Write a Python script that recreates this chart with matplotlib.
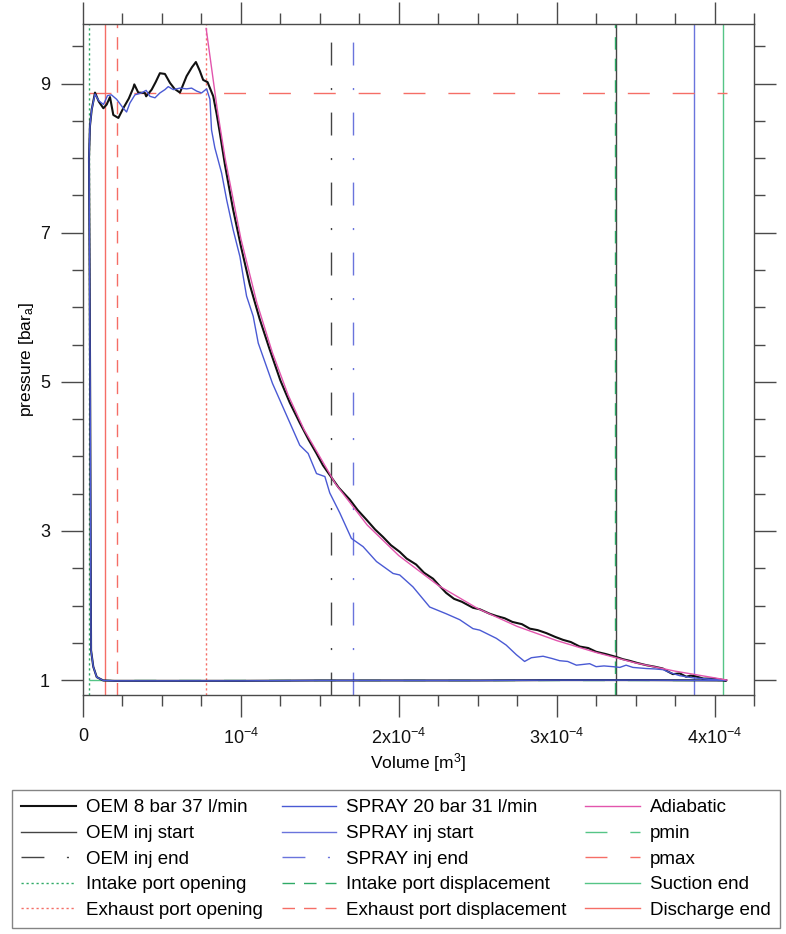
import matplotlib
matplotlib.use('Agg')
import matplotlib.pyplot as plt
import numpy as np
from matplotlib.lines import Line2D
from matplotlib.ticker import MultipleLocator

plt.rcParams['font.family'] = ['Liberation Sans', 'DejaVu Sans']
plt.rcParams['mathtext.fontset'] = 'custom'
plt.rcParams['mathtext.rm'] = 'Liberation Sans'
plt.rcParams['mathtext.it'] = 'Liberation Sans:italic'
plt.rcParams['lines.scale_dashes'] = False

# ---------------- data (volume in 1e-4 m^3, pressure in bar_a) ----------------
oem_volume = [
    4.07, 3.5, 3.0, 2.5, 2.0, 1.5, 1.0, 0.5, 0.2, 0.128,
    0.087, 0.065, 0.051, 0.049, 0.046, 0.042, 0.038, 0.044, 0.055, 0.076,
    0.10, 0.129, 0.150, 0.171, 0.192, 0.224, 0.255, 0.29, 0.318, 0.325, 0.35,
    0.392, 0.40, 0.435, 0.46, 0.487, 0.519, 0.551, 0.58, 0.614, 0.656, 0.69,
    0.715, 0.74, 0.761, 0.789, 0.825, 0.846, 0.866,
    0.90, 0.95, 1.0, 1.057, 1.118, 1.18, 1.25, 1.31, 1.373, 1.43, 1.479, 1.52,
    1.563, 1.62, 1.69, 1.74, 1.796, 1.85, 1.90, 1.95, 2.006, 2.05, 2.11, 2.16,
    2.217, 2.26, 2.30, 2.35, 2.40, 2.47, 2.513, 2.576, 2.618, 2.67, 2.72, 2.78,
    2.83, 2.88, 2.935, 2.99, 3.04, 3.09, 3.146, 3.20, 3.25, 3.31, 3.378, 3.42,
    3.46, 3.51, 3.568, 3.62, 3.673, 3.70, 3.736, 3.78, 3.82, 3.85, 3.88, 3.93,
    3.99, 4.03, 4.07]
oem_pressure = [
    0.995, 1.0, 1.0, 0.995, 0.995, 0.995, 0.99, 0.99, 0.99, 0.995,
    1.04, 1.18, 1.40, 2.6, 4.5, 6.5, 8.0, 8.43, 8.65, 8.88,
    8.76, 8.67, 8.72, 8.82, 8.58, 8.54, 8.67, 8.80, 8.94, 8.99, 8.88,
    8.875, 8.83, 8.92, 9.02, 9.14, 9.13, 9.01, 8.93, 8.88, 9.10, 9.22,
    9.29, 9.17, 9.05, 9.02, 8.83, 8.60, 8.35,
    7.90, 7.32, 6.82, 6.30, 5.85, 5.45, 5.02, 4.72, 4.45, 4.22, 4.04, 3.88,
    3.75, 3.58, 3.42, 3.28, 3.15, 3.02, 2.92, 2.81, 2.72, 2.63, 2.55, 2.44,
    2.36, 2.26, 2.17, 2.09, 2.05, 1.97, 1.95, 1.89, 1.86, 1.83, 1.78, 1.75,
    1.69, 1.67, 1.63, 1.58, 1.54, 1.51, 1.45, 1.43, 1.38, 1.35, 1.31, 1.28,
    1.26, 1.23, 1.20, 1.18, 1.155, 1.12, 1.08, 1.09, 1.045, 1.06, 1.05, 1.02,
    1.02, 1.01, 0.995]

spray_volume = [
    4.07, 3.5, 3.0, 2.5, 2.0, 1.5, 1.0, 0.5, 0.2, 0.128,
    0.087, 0.065, 0.051, 0.049, 0.046, 0.042, 0.038, 0.044, 0.055, 0.076,
    0.10, 0.13, 0.155, 0.18, 0.213, 0.255, 0.276, 0.297, 0.329, 0.37, 0.40,
    0.424, 0.456, 0.487, 0.519, 0.54, 0.572, 0.614, 0.656, 0.688, 0.72, 0.751,
    0.783, 0.804, 0.814, 0.835, 0.878, 0.91, 0.951, 0.994, 1.015, 1.036, 1.078,
    1.11, 1.16, 1.20, 1.25, 1.30, 1.373, 1.426, 1.479, 1.532, 1.563, 1.627,
    1.70, 1.774, 1.859, 1.964, 2.006, 2.09, 2.196, 2.30, 2.386, 2.47, 2.513,
    2.618, 2.68, 2.745, 2.797, 2.84, 2.914, 2.97, 3.019, 3.07, 3.125, 3.209,
    3.25, 3.30, 3.356, 3.40, 3.44, 3.483, 3.568, 3.62, 3.673, 3.72, 3.778,
    3.863, 3.99, 4.07]
spray_pressure = [
    0.995, 1.0, 1.0, 0.995, 0.995, 0.995, 0.99, 0.99, 0.99, 0.995,
    1.04, 1.18, 1.40, 2.6, 4.5, 6.5, 8.0, 8.43, 8.65, 8.86,
    8.77, 8.72, 8.84, 8.85, 8.79, 8.67, 8.62, 8.74, 8.85, 8.875, 8.91,
    8.83, 8.81, 8.875, 8.92, 8.96, 8.92, 8.94, 8.93, 8.94, 8.90, 8.875,
    8.93, 8.79, 8.38, 8.14, 7.80, 7.44, 7.04, 6.68, 6.41, 6.15, 5.88,
    5.52, 5.22, 4.98, 4.74, 4.50, 4.15, 4.04, 3.77, 3.73, 3.51, 3.24,
    2.90, 2.79, 2.59, 2.43, 2.41, 2.25, 1.98, 1.89, 1.81, 1.69, 1.67,
    1.56, 1.47, 1.34, 1.25, 1.30, 1.32, 1.29, 1.26, 1.25, 1.20, 1.22,
    1.18, 1.19, 1.18, 1.17, 1.20, 1.17, 1.155, 1.15, 1.14, 1.10, 1.06,
    1.03, 1.01, 0.995]

adiabatic_volume = [0.78, 0.85, 0.90, 1.0, 1.1, 1.2, 1.3, 1.4, 1.6, 1.8, 2.0,
                    2.25, 2.5, 2.75, 3.0, 3.25, 3.5, 3.75, 4.0, 4.08]
adiabatic_pressure = [9.74, 8.66, 8.00, 6.92, 6.07, 5.39, 4.82, 4.36, 3.63, 3.08,
                      2.67, 2.27, 1.96, 1.72, 1.53, 1.37, 1.23, 1.12, 1.03, 1.0]

# markers (volume in 1e-4 m^3)
oem_inj_start = 3.378
oem_inj_end = 1.57
spray_inj_start = 3.873
spray_inj_end = 1.709
intake_port_opening = 0.04
exhaust_port_opening = 0.78
intake_port_displacement = 3.369
exhaust_port_displacement = 0.217
suction_end = 4.055
discharge_end = 0.139
p_min = 1.0
p_max = 8.875
p_line_start = 0.04
p_line_end = 4.08

x_tick_values = [0, 1, 2, 3, 4]
x_tick_labels = ['0', r'$10^{-4}$', r'$2\mathrm{x}10^{-4}$', r'$3\mathrm{x}10^{-4}$', r'$4\mathrm{x}10^{-4}$']
y_tick_values = [1, 3, 5, 7, 9]

SCALE = 1e-4

# ---------------- styles ----------------
C_BLACK = '#111111'
C_OEMLINE = '#444444'
C_BLUE = '#4a5ad4'
C_BLUE_L = '#6a74dc'
C_PINK = '#e255ad'
C_GREEN = '#55c586'
C_GREEN_D = '#2eaa66'
C_RED = '#f56e66'
C_SPINE = '#4a4a4a'

DOT = (0, (1.6, 2.0))
DASH_S = (0, (9.0, 6.5))
DASH_L = (0, (15.8, 16.5))
DASH_DOT = (0, (16.5, 16.2, 1.5, 16.2))

fig = plt.figure(figsize=(7.86, 9.34), dpi=100)
ax = fig.add_axes([83 / 786, 1 - 695 / 934, (754 - 83) / 786, (695 - 24) / 934])

lw_thin = 1.0
h_oem_start = ax.axvline(oem_inj_start * SCALE, color=C_OEMLINE, lw=lw_thin)
h_oem_end = ax.axvline(oem_inj_end * SCALE, color=C_OEMLINE, lw=lw_thin, ls=DASH_DOT)
h_spray_start = ax.axvline(spray_inj_start * SCALE, color=C_BLUE_L, lw=lw_thin)
h_spray_end = ax.axvline(spray_inj_end * SCALE, color=C_BLUE_L, lw=lw_thin, ls=DASH_DOT)
h_ipo = ax.axvline(intake_port_opening * SCALE, color=C_GREEN_D, lw=lw_thin, ls=DOT)
h_epo = ax.axvline(exhaust_port_opening * SCALE, color=C_RED, lw=lw_thin, ls=DOT)
h_ipd = ax.axvline(intake_port_displacement * SCALE, color=C_GREEN_D, lw=lw_thin, ls=DASH_S)
h_epd = ax.axvline(exhaust_port_displacement * SCALE, color=C_RED, lw=lw_thin, ls=DASH_S)
h_suc = ax.axvline(suction_end * SCALE, color=C_GREEN, lw=lw_thin)
h_dis = ax.axvline(discharge_end * SCALE, color=C_RED, lw=lw_thin)
h_pmin, = ax.plot([p_line_start * SCALE, p_line_end * SCALE], [p_min, p_min],
                  color=C_GREEN, lw=lw_thin, ls=DASH_L)
h_pmax, = ax.plot([p_line_start * SCALE, p_line_end * SCALE], [p_max, p_max],
                  color=C_RED, lw=lw_thin, ls=DASH_L)

h_oem, = ax.plot(np.array(oem_volume) * SCALE, oem_pressure, color=C_BLACK, lw=1.5, zorder=4)
h_spray, = ax.plot(np.array(spray_volume) * SCALE, spray_pressure, color=C_BLUE, lw=1.0, zorder=4)
h_adi, = ax.plot(np.array(adiabatic_volume) * SCALE, adiabatic_pressure, color=C_PINK, lw=1.0, zorder=5)

ax.set_xlim(0, 4.25e-4)
ax.set_ylim(0.8, 9.8)
ax.set_xticks([v * SCALE for v in x_tick_values])
ax.set_xticklabels(x_tick_labels)
ax.xaxis.set_minor_locator(MultipleLocator(0.25e-4))
ax.set_yticks(y_tick_values)
ax.set_yticklabels([str(v) for v in y_tick_values])
ax.yaxis.set_minor_locator(MultipleLocator(0.5))
ax.tick_params(which='both', direction='out', top=True, right=True, color=C_SPINE, width=1.0,
               labelsize=13, labelcolor='#111111')
ax.tick_params(which='major', length=15.8, pad=8)
ax.tick_params(which='minor', length=7.9)
for s in ax.spines.values():
    s.set_color(C_SPINE)
    s.set_linewidth(1.0)

ax.set_xlabel(r'Volume [m$^3$]', fontsize=12.5, labelpad=2)
ax.set_ylabel(r'pressure [bar$_\mathrm{a}$]', fontsize=12.5)
ax.yaxis.set_label_coords((36 - 83) / 671, 0.5)

handles = [
    h_oem, Line2D([], [], color=C_OEMLINE, lw=lw_thin), Line2D([], [], color=C_OEMLINE, lw=lw_thin, ls=DASH_DOT),
    Line2D([], [], color=C_GREEN_D, lw=lw_thin, ls=DOT), Line2D([], [], color=C_RED, lw=lw_thin, ls=DOT),
    h_spray, Line2D([], [], color=C_BLUE_L, lw=lw_thin), Line2D([], [], color=C_BLUE_L, lw=lw_thin, ls=DASH_DOT),
    Line2D([], [], color=C_GREEN_D, lw=lw_thin, ls=DASH_S), Line2D([], [], color=C_RED, lw=lw_thin, ls=DASH_S),
    h_adi, h_pmin, h_pmax, Line2D([], [], color=C_GREEN, lw=lw_thin), Line2D([], [], color=C_RED, lw=lw_thin),
]
labels = [
    'OEM 8 bar 37 l/min', 'OEM inj start', 'OEM inj end', 'Intake port opening', 'Exhaust port opening',
    'SPRAY 20 bar 31 l/min', 'SPRAY inj start', 'SPRAY inj end', 'Intake port displacement', 'Exhaust port displacement',
    'Adiabatic', 'pmin', 'pmax', 'Suction end', 'Discharge end',
]
leg = fig.legend(handles, labels, ncol=3, loc='upper left',
                 bbox_to_anchor=(12 / 786, 1 - 790 / 934, 768 / 786, 0), mode='expand',
                 fontsize=13.5, frameon=True, fancybox=False, edgecolor='#666666',
                 handlelength=2.9, handletextpad=0.55, labelspacing=0.45,
                 borderpad=0.5, borderaxespad=0, columnspacing=0.8)
leg.get_frame().set_linewidth(1.0)

fig.savefig('out.png', dpi=100)
